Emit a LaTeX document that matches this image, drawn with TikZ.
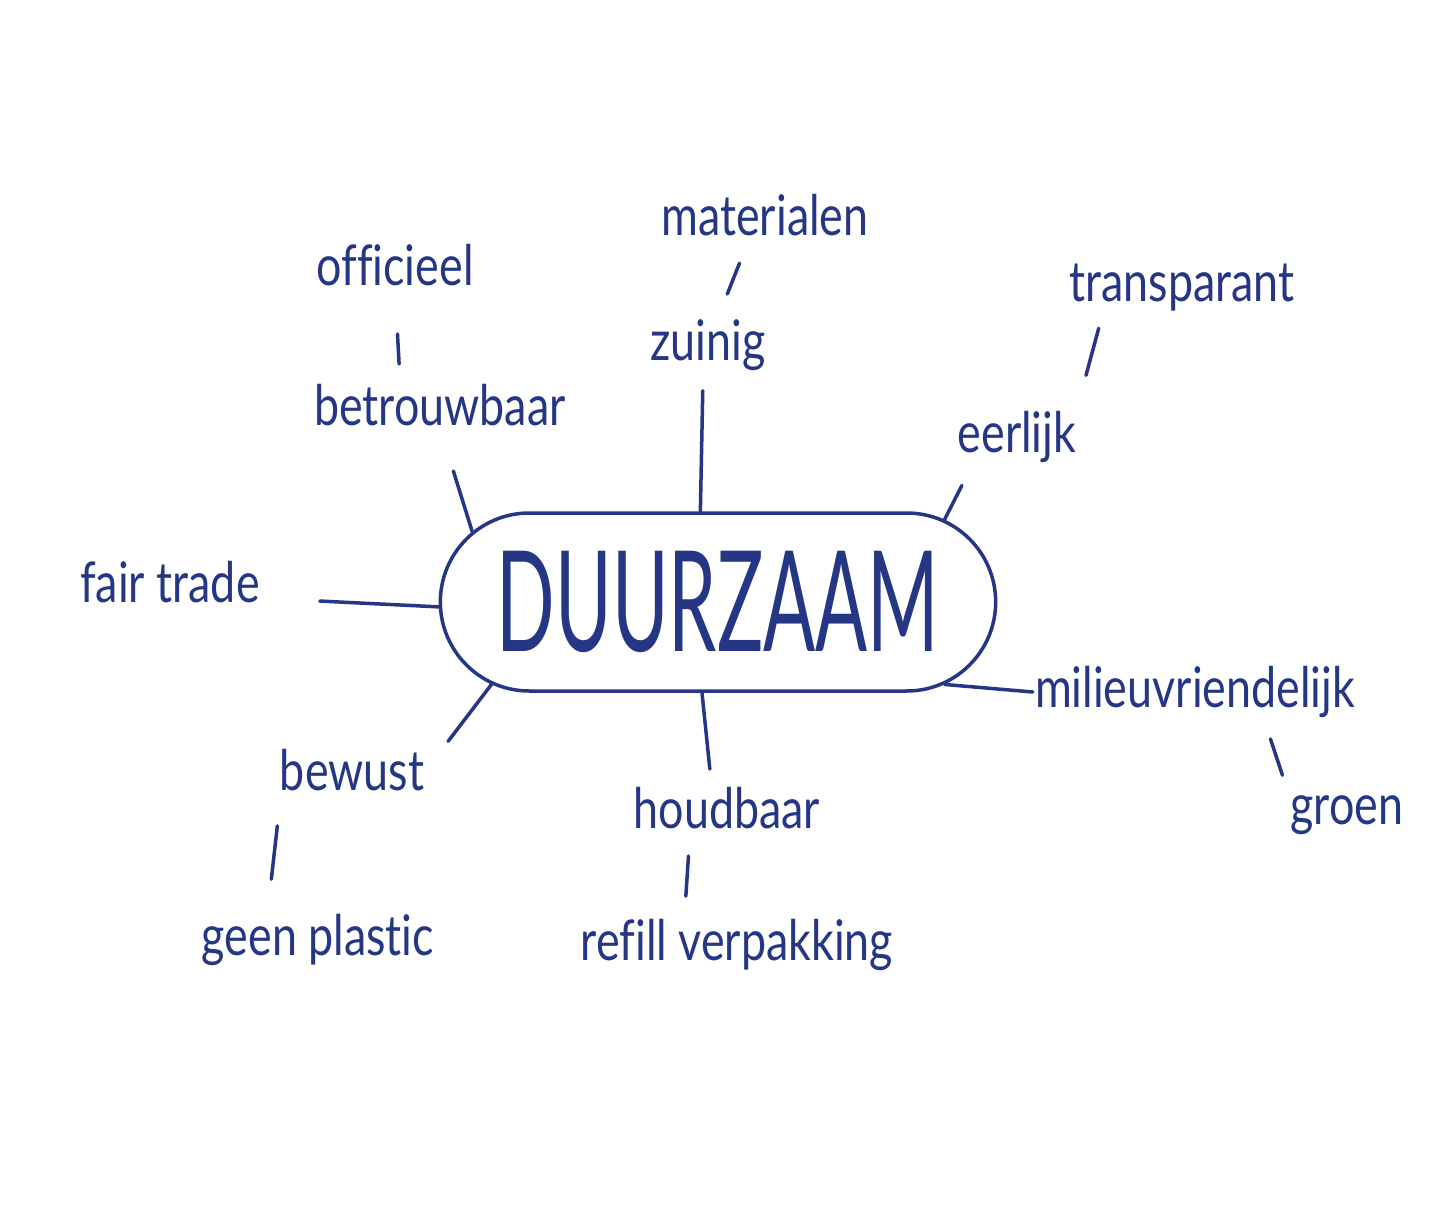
\documentclass[tikz,border=0pt]{standalone}
\usepackage{fontspec}
\setmainfont{Lato}
\newfontfamily\handfont[FakeStretch=0.8,Ligatures=NoCommon]{Lato}
\newfontfamily\titlefont[FakeStretch=0.55]{Lato}
\usetikzlibrary{shapes.misc}
\definecolor{ink}{RGB}{36,54,132}

\begin{document}
\begin{tikzpicture}
  [x=1pt,y=-1pt,
   word/.style={text=ink,inner sep=2pt,font=\handfont\fontsize{56}{60}\selectfont},
   core/.style={rounded rectangle,draw=ink,line width=3.5pt,text=ink,
     minimum width=562pt,minimum height=178pt,
     font=\titlefont\fontsize{140}{140}\selectfont},
   link/.style={draw=ink,line width=3.5pt,line cap=round}]
  \useasboundingbox[fill=white] (0,0) rectangle (1453,1207);
  \node[core] (dz) at (718,602) {DUURZAAM};
  \node[word] (off) at (395,265) {officieel};
  \node[word] (betr) at (440,405) {betrouwbaar};
  \node[word] (mat) at (765,215) {materialen};
  \node[word] (zuin) at (708,345) {zuinig};
  \node[word] (trans) at (1182,288) {transparant};
  \node[word] (eer) at (1017,437) {eerlijk};
  \node[word] (fair) at (170,582) {fair trade};
  \node[word] (mil) at (1195,692) {milieuvriendelijk};
  \node[word] (groen) at (1347,815) {groen};
  \node[word] (bew) at (352,770) {bewust};
  \node[word] (geen) at (318,940) {geen plastic};
  \node[word] (houd) at (727,808) {houdbaar};
  \node[word] (refill) at (737,945) {refill verpakking};
  \draw[link,shorten <=46pt,shorten >=18pt] (off.south) -- (betr.150);
  \draw[link,shorten <=45pt] (betr.south) -- (dz.164);
  \draw[link,shorten <=27pt,shorten >=25pt] (mat.-124) -- (zuin.70);
  \draw[link,shorten <=18pt] (zuin.-100) -- (dz.101);
  \draw[link,shorten <=15pt,shorten >=35pt] (trans.-162) -- (eer.25);
  \draw[link,shorten <=23pt] (eer.-148) -- (dz.20);
  \draw[link,shorten <=58pt] (fair.-10) -- (dz.181);
  \draw[link] (dz.-20) -- (mil.west);
  \draw[link,shorten <=20pt,shorten >=19pt] (mil.-22) -- (groen.north west);
  \draw[link,shorten >=36pt] (dz.200) -- (bew.east);
  \draw[link,shorten <=33pt,shorten >=33pt] (bew.-162) -- (geen.151);
  \draw[link,shorten >=16pt] (dz.260) -- (houd.124);
  \draw[link,shorten <=25pt,shorten >=21pt] (houd.-148) -- (refill.152);
\end{tikzpicture}
\end{document}
